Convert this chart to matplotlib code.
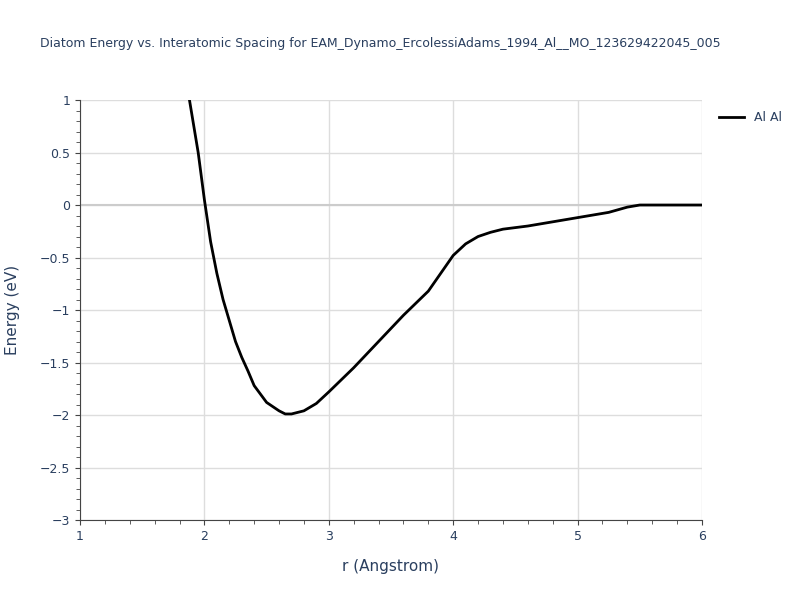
import matplotlib
matplotlib.use("Agg")
import matplotlib.pyplot as plt
from matplotlib.ticker import MultipleLocator, FuncFormatter

r = [1.88,1.95,2.0,2.05,2.1,2.15,2.2,2.25,2.3,2.35,2.4,2.5,2.6,2.65,2.7,2.8,2.9,3.0,3.2,3.4,3.6,3.8,3.9,4.0,4.1,4.2,4.3,4.4,4.6,4.8,5.0,5.25,5.4,5.5,6.0]
energy = [1.0,0.5,0.05,-0.35,-0.65,-0.9,-1.1,-1.3,-1.45,-1.58,-1.72,-1.88,-1.96,-1.99,-1.99,-1.96,-1.89,-1.78,-1.55,-1.3,-1.05,-0.82,-0.65,-0.48,-0.37,-0.3,-0.26,-0.23,-0.2,-0.16,-0.12,-0.07,-0.02,0.0,0.0]

fig = plt.figure(figsize=(8,6), dpi=100)
ax = fig.add_axes([0.1, 0.1333, 0.7775, 0.7])
txt = '#2a3f5f'
ax.plot(r, energy, color='black', lw=2, label='Al Al', zorder=3)
ax.set_xlim(1,6); ax.set_ylim(-3,1)
ax.xaxis.set_major_locator(MultipleLocator(1))
ax.yaxis.set_major_locator(MultipleLocator(0.5))
ax.xaxis.set_minor_locator(MultipleLocator(0.2))
ax.yaxis.set_minor_locator(MultipleLocator(0.1))
ax.yaxis.set_major_formatter(FuncFormatter(lambda v,p: ('%g'%v).replace('-','\u2212')))
ax.grid(True, which='major', color='#dddddd', lw=1)
ax.axhline(0, color='#cccccc', lw=1.5, zorder=2)
for s in ['top','right']: ax.spines[s].set_visible(False)
for s in ['left','bottom']: ax.spines[s].set_color('#444444')
ax.tick_params(colors='#444444', labelcolor=txt, labelsize=9)
ax.tick_params(which='minor', length=3, color='#444444')
ax.set_xlabel('r (Angstrom)', color=txt, fontsize=11, labelpad=12)
ax.set_ylabel('Energy (eV)', color=txt, fontsize=11, labelpad=14)
fig.text(0.05, 0.922, 'Diatom Energy vs. Interatomic Spacing for EAM_Dynamo_ErcolessiAdams_1994_Al__MO_123629422045_005', color=txt, fontsize=9)
ax.legend(loc='upper left', bbox_to_anchor=(1.01,1.0), frameon=False, labelcolor=txt, fontsize=9)
fig.savefig('out.png')
